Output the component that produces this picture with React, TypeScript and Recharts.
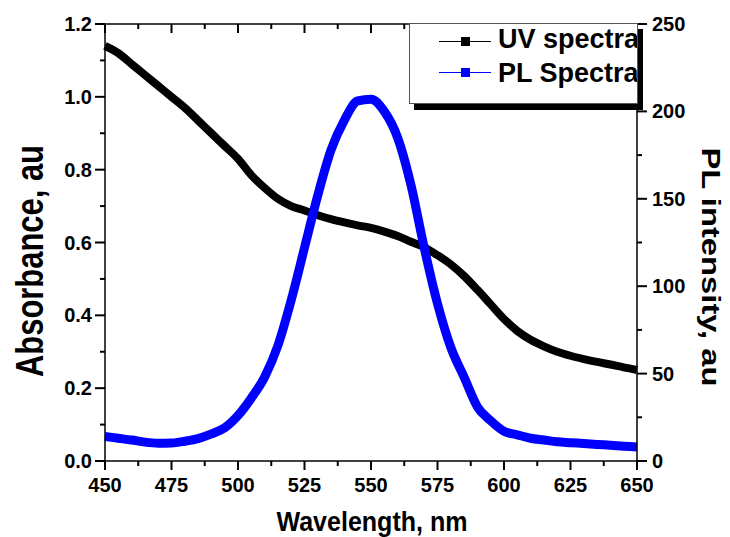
import { ComposedChart, Line, XAxis, YAxis } from "recharts";

// wavelength grid (nm) and the two spectra
const wavelengths = [
  450, 455, 460, 465, 470, 475, 480, 485, 490, 495, 500, 505, 510, 515, 520,
  525, 530, 535, 540, 545, 550, 555, 560, 565, 570, 575, 580, 585, 590, 595,
  600, 605, 610, 615, 620, 625, 630, 635, 640, 645, 650,
];
const uvAbsorbance = [
  1.14, 1.12, 1.09, 1.06, 1.03, 1.0, 0.97, 0.935, 0.9, 0.865, 0.83, 0.785,
  0.75, 0.72, 0.7, 0.688, 0.675, 0.664, 0.655, 0.647, 0.64, 0.63, 0.618, 0.602,
  0.587, 0.565, 0.54, 0.508, 0.47, 0.43, 0.39, 0.357, 0.333, 0.315, 0.3, 0.289,
  0.28, 0.272, 0.265, 0.257, 0.25,
];
const plIntensity = [
  14, 13, 12, 10.8, 10.2, 10.3, 11.3, 12.8, 15.5, 19, 26, 36, 48, 66, 92, 122,
  152, 178, 195, 206, 207, 200, 185, 158, 122, 90, 65, 48, 31, 23, 17, 15, 13,
  12, 11, 10.5, 10, 9.5, 9, 8.5, 8,
];

const xTicks = [
  450, 462.5, 475, 487.5, 500, 512.5, 525, 537.5, 550, 562.5, 575, 587.5, 600,
  612.5, 625, 637.5, 650,
];
const leftTicks = [0, 0.1, 0.2, 0.3, 0.4, 0.5, 0.6, 0.7, 0.8, 0.9, 1.0, 1.1, 1.2];
const rightTicks = [0, 25, 50, 75, 100, 125, 150, 175, 200, 225, 250];

const data = wavelengths.map((w, i) => ({
  w,
  uv: uvAbsorbance[i],
  pl: plIntensity[i],
}));

const FONT = "Arial";
const TICK_LINE = { stroke: "#000", strokeWidth: 2 };

// built-in tick lines give the short (minor) length; majors get an extension here
function BottomTick(props: any) {
  const x = Number(props.x);
  const y = Number(props.y);
  const v = props.payload.value;
  const major = v % 25 === 0;
  if (!major) return <g />;
  return (
    <g>
      <line x1={x} x2={x} y1={y} y2={y + 4} stroke="#000" strokeWidth={2} />
      <text x={x} y={y + 26} textAnchor="middle" fontFamily={FONT} fontWeight={700} fontSize={20} fill="#000">
        {String(v)}
      </text>
    </g>
  );
}

function TopTick(props: any) {
  const x = Number(props.x);
  const y = Number(props.y);
  const major = props.payload.value % 25 === 0;
  return (
    <g>
      <line x1={x} x2={x} y1={y} y2={y + (major ? 9 : 5)} stroke="#000" strokeWidth={2} />
    </g>
  );
}

function LeftTick(props: any) {
  const x = Number(props.x);
  const y = Number(props.y);
  const v = props.payload.value;
  const major = Math.round(v * 10) % 2 === 0;
  if (!major) return <g />;
  return (
    <g>
      <line x1={x - 5} x2={x} y1={y} y2={y} stroke="#000" strokeWidth={2} />
      <text x={x - 8} y={y + 7} textAnchor="end" fontFamily={FONT} fontWeight={700} fontSize={20} fill="#000">
        {v.toFixed(1)}
      </text>
    </g>
  );
}

function RightTick(props: any) {
  const x = Number(props.x);
  const y = Number(props.y);
  const v = props.payload.value;
  const major = v % 50 === 0;
  if (!major) return <g />;
  return (
    <g>
      <line x1={x} x2={x + 5} y1={y} y2={y} stroke="#000" strokeWidth={2} />
      <text x={x + 10} y={y + 7} textAnchor="start" fontFamily={FONT} fontWeight={700} fontSize={20} fill="#000">
        {String(v)}
      </text>
    </g>
  );
}

const leftTitle = () => (
  <text
    transform="translate(43,261) rotate(-90)"
    textAnchor="middle"
    fontFamily={FONT}
    fontWeight={700}
    fontSize={38}
    textLength={232}
    lengthAdjust="spacingAndGlyphs"
    fill="#000"
  >
    Absorbance, au
  </text>
);

const rightTitle = () => (
  <text
    transform="translate(702,267) rotate(90)"
    textAnchor="middle"
    fontFamily={FONT}
    fontWeight={700}
    fontSize={26}
    textLength={239}
    lengthAdjust="spacingAndGlyphs"
    fill="#000"
  >
    PL intensity, au
  </text>
);

const bottomTitle = () => (
  <text
    x={372}
    y={531}
    textAnchor="middle"
    fontFamily={FONT}
    fontWeight={700}
    fontSize={28}
    textLength={191}
    lengthAdjust="spacingAndGlyphs"
    fill="#000"
  >
    Wavelength, nm
  </text>
);

// legend row: y values are relative to the legend box inner top
function LegendRow({ color, label, markerY, textY }: { color: string; label: string; markerY: number; textY: number }) {
  return (
    <>
      <div style={{ position: "absolute", left: 29, top: markerY, width: 52, height: 1, background: color }} />
      <div style={{ position: "absolute", left: 51, top: markerY - 4, width: 9, height: 9, background: color }} />
      <div
        style={{
          position: "absolute",
          left: 88,
          top: textY - 15,
          fontFamily: FONT,
          fontWeight: "bold",
          fontSize: 27,
          whiteSpace: "nowrap",
          lineHeight: "30px",
          color: "#000",
        }}
      >
        {label}
      </div>
    </>
  );
}

export default function App() {
  return (
    <div style={{ position: "absolute", left: 0, top: 0, width: 730, height: 537, background: "#fff" }}>
      <ComposedChart width={730} height={537} data={data} margin={{ top: 0, right: 0, bottom: 0, left: 0 }}>
        <XAxis
          xAxisId="bottom"
          dataKey="w"
          type="number"
          domain={[450, 650]}
          ticks={xTicks}
          interval={0}
          height={76}
          tickSize={5}
          tickMargin={0}
          tickLine={TICK_LINE}
          stroke="#000"
          strokeWidth={1.5}
          tick={(p: any) => <BottomTick {...p} />}
          label={bottomTitle}
        />
        <XAxis
          xAxisId="top"
          orientation="top"
          dataKey="w"
          type="number"
          domain={[450, 650]}
          ticks={xTicks}
          interval={0}
          height={24}
          tickSize={0}
          tickMargin={0}
          tickLine={false}
          stroke="#000"
          strokeWidth={1.5}
          tick={(p: any) => <TopTick {...p} />}
        />
        <YAxis
          yAxisId="left"
          type="number"
          domain={[0, 1.2]}
          ticks={leftTicks}
          interval={0}
          width={105}
          tickSize={5}
          tickMargin={0}
          tickLine={TICK_LINE}
          stroke="#000"
          strokeWidth={1.5}
          tick={(p: any) => <LeftTick {...p} />}
          label={leftTitle}
        />
        <YAxis
          yAxisId="right"
          orientation="right"
          type="number"
          domain={[0, 250]}
          ticks={rightTicks}
          interval={0}
          width={93}
          tickSize={5}
          tickMargin={0}
          tickLine={TICK_LINE}
          stroke="#000"
          strokeWidth={1.5}
          tick={(p: any) => <RightTick {...p} />}
          label={rightTitle}
        />
        <Line
          xAxisId="bottom"
          yAxisId="left"
          dataKey="uv"
          type="monotone"
          stroke="#000"
          strokeWidth={8}
          dot={false}
          isAnimationActive={false}
        />
        <Line
          xAxisId="bottom"
          yAxisId="right"
          dataKey="pl"
          type="monotone"
          stroke="#0000ff"
          strokeWidth={9}
          dot={false}
          isAnimationActive={false}
        />
      </ComposedChart>

      <div
        style={{
          position: "absolute",
          left: 409,
          top: 23,
          width: 227,
          height: 79,
          border: "1px solid #555",
          background: "#fff",
          boxShadow: "5px 6px 0 #000",
          overflow: "hidden",
        }}
      >
        <LegendRow color="#000" label="UV spectra" markerY={17} textY={15} />
        <LegendRow color="#0000ff" label="PL Spectra" markerY={48} textY={49} />
      </div>
    </div>
  );
}
